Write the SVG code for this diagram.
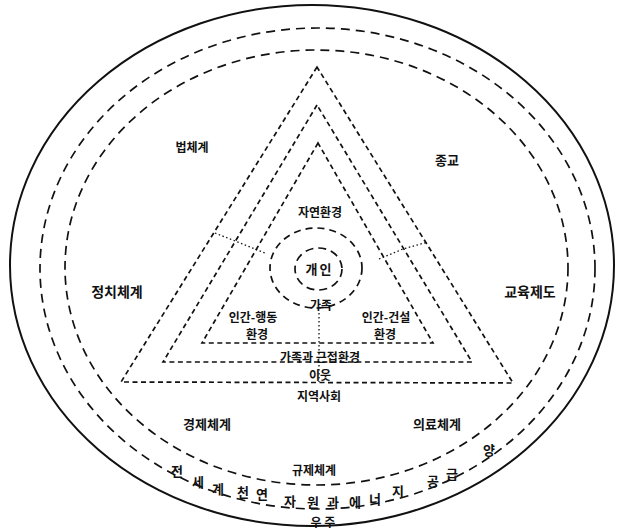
<svg xmlns="http://www.w3.org/2000/svg" width="617" height="530" viewBox="0 0 617 530">
<style>
text{font-family:"Noto Sans CJK KR","Noto Sans",sans-serif;font-weight:700;fill:#111;text-anchor:middle}
.s12{font-size:12px}.s13{font-size:13px}.s14{font-size:14px}
.ell{fill:none;stroke:#111;stroke-width:1.7;stroke-dasharray:9 6}
.tri{fill:none;stroke:#111;stroke-width:1.7;stroke-dasharray:5 3.5}
.dot{fill:none;stroke:#111;stroke-width:1.3;stroke-dasharray:1.5 2.5}
</style>
<rect width="617" height="530" fill="#fff"/>
<g id="universe">
<ellipse cx="312" cy="265.5" rx="302" ry="260.5" fill="none" stroke="#111" stroke-width="2"/>
<text class="s12" x="323" y="526.5">우 주</text>
</g>
<g id="world">
<ellipse class="ell" cx="317.5" cy="268.5" rx="277.5" ry="240.5"/>
<g class="s13">
<text x="177" y="476">전</text>
<text x="198" y="487">세</text>
<text x="218" y="494">계</text>
<text x="243" y="497">천</text>
<text x="262" y="499">연</text>
<text x="290" y="506">자</text>
<text x="313" y="507">원</text>
<text x="333" y="507">과</text>
<text x="355" y="507">에</text>
<text x="375" y="504">너</text>
<text x="398" y="496">지</text>
<text x="433" y="486">공</text>
<text x="452" y="479">급</text>
<text x="489" y="455">양</text>
</g>
</g>
<g id="society">
<ellipse class="ell" cx="316.5" cy="267.5" rx="251.5" ry="217.5"/>
<text class="s12" x="192" y="151.5">법체계</text>
<text class="s13" x="447" y="164.5">종교</text>
<text class="s14" x="117" y="297">정치체계</text>
<text class="s14" x="530" y="297">교육제도</text>
<text class="s13" x="207" y="428.5">경제체계</text>
<text class="s13" x="437" y="428.5">의료체계</text>
<text class="s12" x="314" y="474.5">규제체계</text>
</g>
<g id="community">
<polygon class="tri" points="317,67 121,382 513,383"/>
<text class="s12" x="320" y="379.5">이웃</text>
<text class="s12" x="319" y="400.5">지역사회</text>
</g>
<g id="proximate">
<polygon class="tri" points="317,105 163,362 472,362"/>
<text class="s12" x="320" y="361.5">가족과 근접환경</text>
</g>
<g id="environment">
<polygon class="tri" points="318,143 202,343 433,343"/>
<text class="s12" x="320" y="216.5">자연환경</text>
<text class="s12" x="253" y="321.5">인간-행동</text>
<text class="s12" x="257" y="338.5">환경</text>
<text class="s12" x="386" y="321.5">인간-건설</text>
<text class="s12" x="385" y="338.5">환경</text>
</g>
<g id="family">
<ellipse cx="316" cy="268" rx="46" ry="40" fill="none" stroke="#111" stroke-width="1.7" stroke-dasharray="7 5"/>
<text class="s12" x="321" y="309.5">가족</text>
</g>
<g id="individual">
<ellipse cx="318.5" cy="269" rx="23.5" ry="21" fill="none" stroke="#111" stroke-width="1.7" stroke-dasharray="8 5"/>
<text class="s13" x="319.5" y="274" letter-spacing="2">개인</text>
</g>
<g id="connectors">
<polyline class="dot" points="215,233 265,253"/>
<polyline class="dot" points="379,259 403,249 428,242"/>
<polyline class="dot" points="319,313 319,382"/>
</g>
</svg>
